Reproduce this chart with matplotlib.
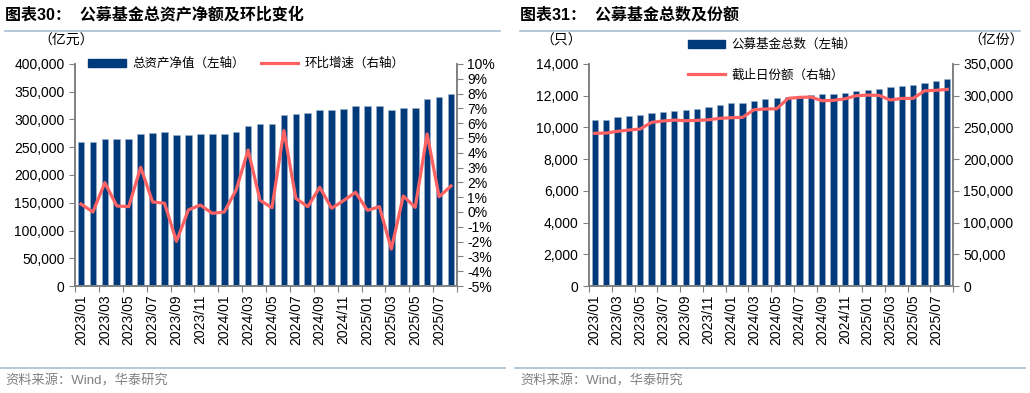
import numpy as np
import matplotlib
matplotlib.use("Agg")
from matplotlib import pyplot as plt
from matplotlib.patches import Patch
from matplotlib.lines import Line2D
from matplotlib.ticker import FuncFormatter

plt.rcParams['font.family'] = ['Liberation Sans', 'Noto Sans CJK SC', 'DejaVu Sans']
plt.rcParams['axes.unicode_minus'] = False

# months 2023/01 .. 2025/08
months = [f"{y}/{m:02d}" for y in (2023, 2024, 2025) for m in range(1, 13)][:32]

# chart 30: total net assets (100m yuan) and m/m growth (%)
net_assets = [259500, 259500, 264000, 264500, 265500, 274500, 276000, 277500,
              272000, 272000, 274000, 273000, 273000, 277500, 289000, 292000,
              291900, 308100, 310500, 311700, 316500, 317100, 318900, 324300,
              324300, 324900, 317100, 320100, 320700, 337500, 341100, 346500]
growth = [0.54, 0.0, 1.98, 0.41, 0.36, 3.02, 0.68, 0.59, -1.98, 0.14, 0.47, -0.09,
          0.0, 1.49, 4.19, 0.79, 0.29, 5.5, 0.92, 0.36, 1.67, 0.25, 0.77, 1.33,
          0.11, 0.36, -2.5, 1.08, 0.31, 5.27, 1.03, 1.76]

# chart 31: number of funds and total shares (100m)
fund_count = [10450, 10490, 10640, 10720, 10790, 10910, 10950, 11020, 11120, 11160,
              11290, 11410, 11520, 11540, 11670, 11790, 11860, 11940, 11980, 12050,
              12090, 12130, 12190, 12280, 12360, 12400, 12530, 12630, 12700, 12820,
              12930, 13030]
shares = [240700, 241100, 243800, 245900, 247500, 258000, 260100, 261600, 260500,
          261100, 262100, 264300, 265300, 265900, 277900, 279000, 279500, 295800,
          297400, 297900, 292100, 292700, 295200, 300000, 301000, 300500, 293200,
          295800, 295800, 307800, 308500, 310000]

NAVY = '#003A7A'
RED = '#FF6262'
GREY = '#808080'
RULE = '#A9BED6'

fig = plt.figure(figsize=(10.30, 3.93), dpi=100)


def style_axes(ax, ax2):
    for a in (ax, ax2):
        a.spines['top'].set_visible(False)
        for s in ('left', 'right', 'bottom'):
            a.spines[s].set_color(GREY)
            a.spines[s].set_linewidth(1.2)
        a.tick_params(axis='y', colors='black', labelsize=10, length=4, color=GREY)
    x = np.arange(len(months))
    ax.set_xlim(-0.5, len(months) - 0.5)
    ax.set_xticks(np.arange(-0.5, len(months), 2))
    ax.set_xticklabels([])
    ax.set_xticks(x[::2], minor=True)
    ax.set_xticklabels(months[::2], minor=True, rotation=90, fontsize=10)
    ax.tick_params(axis='x', which='major', length=4, color=GREY)
    ax.tick_params(axis='x', which='minor', length=0, pad=6)


def frame(x0, x1, title, source):
    fig.text(x0 / 1030, 1 - 15 / 393, title, fontsize=11.5, fontweight='bold', va='center')
    fig.add_artist(Line2D([x0 / 1030, x1 / 1030], [1 - 31 / 393] * 2, color=RULE, lw=1.2))
    fig.add_artist(Line2D([(x0 - 5) / 1030, (x1 + 5) / 1030], [1 - 368 / 393] * 2, color=RULE, lw=1.2))
    fig.text(x0 / 1030, 1 - 381 / 393, source, fontsize=9.5, color=GREY, va='center')


# ---- left chart ----
ax = fig.add_axes([75 / 1030, 1 - 286 / 393, (457 - 75) / 1030, 222 / 393])
ax2 = ax.twinx()
x = np.arange(len(months))
ax.bar(x, net_assets, width=0.55, color=NAVY, edgecolor='#9FB3CC', linewidth=0.4)
ax2.plot(x, growth, color=RED, lw=2.3)
ax.set_ylim(0, 400000)
ax.set_yticks(np.arange(0, 400001, 50000))
ax.yaxis.set_major_formatter(FuncFormatter(lambda v, p: f"{int(v):,}"))
ax2.set_ylim(-5, 10)
ax2.set_yticks(np.arange(-5, 11, 1))
ax2.yaxis.set_major_formatter(FuncFormatter(lambda v, p: f"{int(v)}%"))
style_axes(ax, ax2)
fig.text(38 / 1030, 1 - 41 / 393, "（亿元）", fontsize=10, va='center')
ax.legend(handles=[Patch(color=NAVY, label="总资产净值（左轴）"),
                   Line2D([], [], color=RED, lw=2.3, label="环比增速（右轴）")],
          loc='center left', bbox_to_anchor=(0.005, 1.0), ncol=2, frameon=False,
          fontsize=9, handlelength=3.0, handleheight=0.6, columnspacing=1.3,
          handletextpad=0.5)
frame(5, 500, "图表30：  公募基金总资产净额及环比变化", "资料来源：Wind，华泰研究")

# ---- right chart ----
bx = fig.add_axes([589 / 1030, 1 - 286 / 393, (953 - 589) / 1030, 222 / 393])
bx2 = bx.twinx()
bx.bar(x, fund_count, width=0.55, color=NAVY, edgecolor='#9FB3CC', linewidth=0.4)
bx2.plot(x, shares, color=RED, lw=2.3)
bx.set_ylim(0, 14000)
bx.set_yticks(np.arange(0, 14001, 2000))
bx.yaxis.set_major_formatter(FuncFormatter(lambda v, p: f"{int(v):,}"))
bx2.set_ylim(0, 350000)
bx2.set_yticks(np.arange(0, 350001, 50000))
bx2.yaxis.set_major_formatter(FuncFormatter(lambda v, p: f"{int(v):,}"))
style_axes(bx, bx2)
fig.text(540 / 1030, 1 - 41 / 393, "（只）", fontsize=10, va='center')
fig.text(968 / 1030, 1 - 41 / 393, "（亿份）", fontsize=10, va='center')
bx.legend(handles=[Patch(color=NAVY, label="公募基金总数（左轴）")],
          loc='center left', bbox_to_anchor=(0.24, 1.085), frameon=False,
          fontsize=9, handlelength=3.0, handleheight=0.6, handletextpad=0.5)
bx2.legend(handles=[Line2D([], [], color=RED, lw=2.3, label="截止日份额（右轴）")],
           loc='center left', bbox_to_anchor=(0.24, 0.95), frameon=False,
           fontsize=9, handlelength=3.0, handletextpad=0.5)
frame(520, 1020, "图表31：  公募基金总数及份额", "资料来源：Wind，华泰研究")

fig.savefig("out.png", dpi=100)
